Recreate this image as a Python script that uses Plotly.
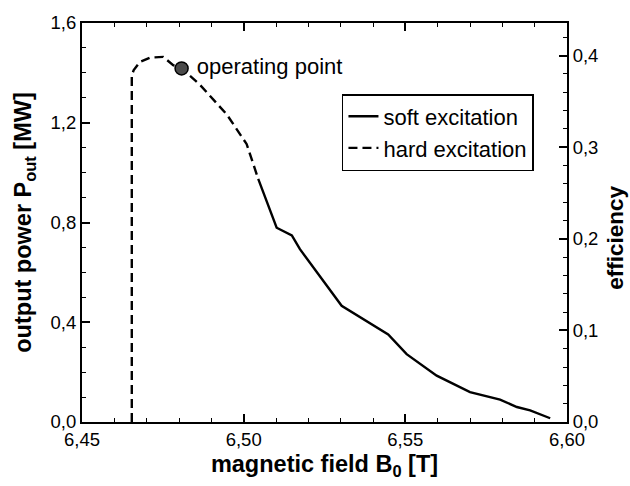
import plotly.graph_objects as go

# ---- data ----
hard_b = [6.4654, 6.4654, 6.4660, 6.4679, 6.4710, 6.4751, 6.4782, 6.4808, 6.4865, 6.4948, 6.5009, 6.5045]
hard_p = [0.000, 1.391, 1.411, 1.444, 1.461, 1.464, 1.431, 1.418, 1.352, 1.233, 1.115, 0.975]

soft_b = [6.5045, 6.5102, 6.5149, 6.5174, 6.5303, 6.5447, 6.5504, 6.5597, 6.5700, 6.5793, 6.5845, 6.5886, 6.5948]
soft_p = [0.975, 0.779, 0.748, 0.693, 0.466, 0.351, 0.272, 0.186, 0.120, 0.090, 0.060, 0.047, 0.015]

op_b = [6.4808]
op_p = [1.418]
op_label = ["\u00a0operating point"]

x_range = [6.45, 6.60]
p_range = [0.0, 1.6]
eff_range = [0.0, 0.4355]

FONT = "Liberation Sans, Arial, sans-serif"

fig = go.Figure()

fig.add_trace(go.Scatter(
    x=soft_b, y=soft_p, mode="lines", name="soft excitation", legendgroup="soft",
    line=dict(color="black", width=2.4),
))
fig.add_trace(go.Scatter(
    x=hard_b, y=hard_p, mode="lines", name="hard excitation", legendgroup="hard",
    line=dict(color="black", width=2.4, dash="9px,5px"),
))
fig.add_trace(go.Scatter(
    x=op_b, y=op_p, mode="markers+text", text=op_label,
    textposition="middle right", showlegend=False,
    textfont=dict(family=FONT, size=22, color="black"),
    marker=dict(size=13, color="#4a4a4a", symbol="circle",
                line=dict(color="black", width=1.5)),
))
# invisible trace to activate the right-hand efficiency axis
fig.add_trace(go.Scatter(
    x=[x_range[0]], y=[eff_range[0]], yaxis="y2", mode="markers",
    marker=dict(opacity=0), showlegend=False, hoverinfo="skip",
))

axis_common = dict(
    showgrid=False, zeroline=False, showline=True, linecolor="black", linewidth=2,
    ticks="inside", ticklen=8, tickwidth=1.5, tickcolor="black",
    tickfont=dict(family=FONT, size=18.5, color="black"),
)
minor_common = dict(ticks="inside", ticklen=4, tickwidth=1.2, tickcolor="black", showgrid=False)
title_font = dict(family=FONT, size=23.5, color="black", weight="bold")

fig.update_layout(
    width=630, height=486,
    margin=dict(l=82, r=63, t=17, b=64),
    paper_bgcolor="white", plot_bgcolor="white",
    separators=",.",
    font=dict(family=FONT, color="black"),
    xaxis=dict(
        range=x_range, dtick=0.05, tick0=6.45, tickformat=".2f",
        mirror="ticks",
        minor=dict(dtick=0.01, **minor_common),
        title=dict(text="magnetic field B<sub>0</sub> [T]", standoff=6, font=title_font),
        **axis_common,
    ),
    yaxis=dict(
        range=p_range, dtick=0.4, tick0=0, tickformat=".1f",
        mirror=False,
        minor=dict(dtick=0.1, **minor_common),
        title=dict(text="output power P<sub>out</sub> [MW]", standoff=12, font=title_font),
        **axis_common,
    ),
    yaxis2=dict(
        range=eff_range, dtick=0.1, tick0=0, tickformat=".1f",
        overlaying="y", side="right", anchor="x",
        minor=dict(dtick=0.02, **minor_common),
        **axis_common,
    ),
    annotations=[dict(
        text="efficiency", xref="paper", yref="paper", x=1, y=0.462,
        xanchor="center", yanchor="middle", xshift=616 - 567, textangle=-90,
        showarrow=False, borderpad=0, font=dict(family=FONT, size=22.5, color="black", weight="bold"),
    )],
    legend=dict(
        x=0.536, y=0.822, xanchor="left", yanchor="top",
        bordercolor="black", borderwidth=1.5, bgcolor="white",
        font=dict(family=FONT, size=22, color="black"),
        tracegroupgap=0, entrywidth=190, entrywidthmode="pixels",
    ),
    showlegend=True,
)

fig.write_html("out.html")
